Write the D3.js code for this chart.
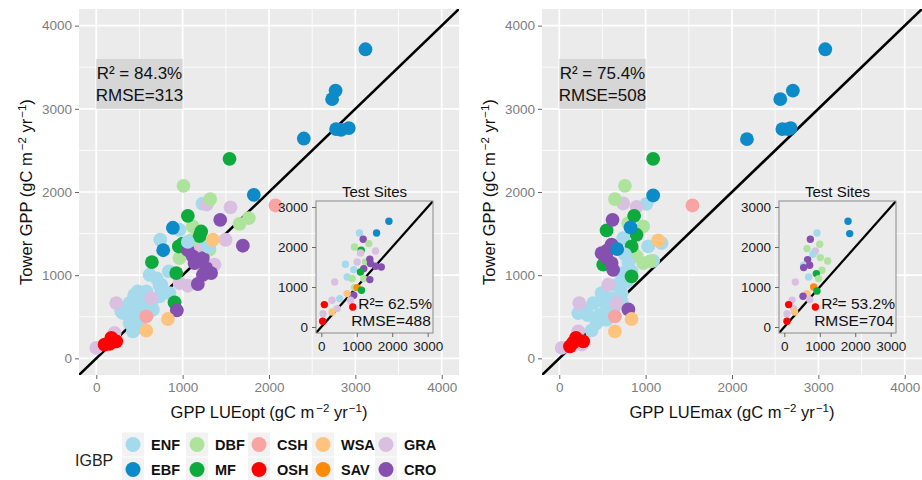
<!DOCTYPE html>
<html>
<head>
<meta charset="utf-8">
<script src="https://cdn.jsdelivr.net/npm/d3@7"></script>
<style>
  body { margin: 0; background: #fff; }
  text { font-family: "Liberation Sans", Arial, sans-serif; }
</style>
</head>
<body>
<svg id="chart" width="922" height="480"></svg>
<script>
// IGBP classes and their colours
const igbpTypes = ['ENF', 'EBF', 'DBF', 'MF', 'CSH', 'OSH', 'WSA', 'SAV', 'GRA', 'CRO']
const igbpColors = ['#a5d9ec', '#0d8bc8', '#aee39d', '#0eaa3e', '#f9a3a3', '#fe0000', '#fec47d', '#ff8a0a', '#d9c0e1', '#8550b0']

const mainTicks = [0, 1000, 2000, 3000, 4000]
const minorTicks = [500, 1500, 2500, 3500]
const insetTicks = [0, 1000, 2000, 3000]

// [IGBP, model GPP, tower GPP]  -- LUEopt, all sites
const optSites = [
  ['ENF', 1230, 1860], ['GRA', 1280, 1850], ['GRA', 1554, 1814], ['DBF', 1010, 2074], ['DBF', 1319, 1915],
  ['ENF', 964, 1546], ['ENF', 741, 1426], ['ENF', 1157, 1366], ['ENF', 1253, 1385], ['ENF', 840, 1045],
  ['ENF', 617, 1005], ['ENF', 733, 873], ['ENF', 848, 785], ['ENF', 481, 805], ['ENF', 579, 805],
  ['ENF', 521, 665], ['ENF', 385, 665], ['ENF', 289, 565], ['ENF', 443, 565], ['ENF', 637, 665],
  ['ENF', 481, 485], ['ENF', 443, 345], ['ENF', 308, 545], ['ENF', 733, 745], ['ENF', 655, 585],
  ['ENF', 385, 425], ['ENF', 539, 605], ['ENF', 424, 324], ['ENF', 752, 885], ['ENF', 560, 720],
  ['ENF', 440, 760], ['ENF', 350, 600], ['ENF', 600, 540], ['ENF', 500, 420], ['ENF', 700, 960],
  ['GRA', 1497, 1426], ['GRA', 1369, 1126], ['GRA', 964, 906], ['GRA', 1060, 873], ['GRA', 231, 665],
  ['GRA', 637, 725], ['GRA', 212, 305], ['GRA', 0, 125], ['GRA', 212, 200], ['GRA', 1180, 1300],
  ['DBF', 1659, 1618], ['DBF', 1766, 1686], ['DBF', 1118, 1586], ['DBF', 1311, 1306], ['DBF', 964, 1206],
  ['DBF', 1227, 1126], ['DBF', 1100, 1420],
  ['MF', 1543, 2399], ['MF', 1060, 1714], ['MF', 1215, 1525], ['MF', 1196, 1470], ['MF', 956, 1345],
  ['MF', 644, 1158], ['MF', 926, 1025], ['MF', 906, 673], ['MF', 1000, 1380],
  ['CRO', 1435, 1666], ['CRO', 1697, 1354], ['CRO', 1118, 1226], ['CRO', 1234, 1206], ['CRO', 1138, 1146],
  ['CRO', 1234, 1005], ['CRO', 1330, 1025], ['CRO', 1176, 894], ['CRO', 1273, 1085], ['CRO', 933, 577],
  ['CRO', 1060, 1300],
  ['ENF', 1060, 1400], ['ENF', 1300, 1340],
  ['WSA', 1350, 1426], ['WSA', 829, 473], ['WSA', 579, 333],
  ['CSH', 2075, 1838], ['CSH', 579, 505],
  ['EBF', 3117, 3716], ['EBF', 2771, 3219], ['EBF', 2731, 3116], ['EBF', 2777, 2756], ['EBF', 2924, 2768],
  ['EBF', 2835, 2747], ['EBF', 2403, 2643], ['EBF', 1824, 1966], ['EBF', 887, 1570], ['EBF', 775, 1300],
  ['OSH', 96, 165], ['OSH', 174, 245], ['OSH', 231, 205], ['OSH', 154, 175]
]

// LUEmax, all sites
const maxSites = [
  ['ENF', 1010, 1858], ['GRA', 740, 1862], ['GRA', 895, 1822], ['DBF', 760, 2074], ['DBF', 644, 1915],
  ['ENF', 740, 1446], ['ENF', 1184, 1386], ['ENF', 1029, 1346], ['ENF', 1087, 1173], ['ENF', 740, 1026],
  ['ENF', 837, 1045], ['ENF', 721, 1005], ['ENF', 490, 785], ['ENF', 606, 725], ['ENF', 721, 785],
  ['ENF', 644, 625], ['ENF', 393, 665], ['ENF', 277, 585], ['ENF', 220, 545], ['ENF', 471, 525],
  ['ENF', 432, 425], ['ENF', 374, 336], ['ENF', 548, 465], ['ENF', 721, 685], ['ENF', 560, 600],
  ['ENF', 660, 880], ['ENF', 520, 680], ['ENF', 780, 920], ['ENF', 330, 520],
  ['GRA', 567, 885], ['GRA', 231, 665], ['GRA', 664, 665], ['GRA', 220, 325], ['GRA', 28, 125], ['GRA', 259, 165],
  ['DBF', 971, 1586], ['DBF', 798, 1626], ['DBF', 895, 1225], ['DBF', 971, 1146], ['DBF', 1049, 1166],
  ['DBF', 850, 1300],
  ['MF', 1087, 2399], ['MF', 867, 1714], ['MF', 548, 1538], ['MF', 895, 1486], ['MF', 837, 1346],
  ['MF', 509, 1126], ['MF', 837, 985],
  ['CRO', 617, 1666], ['CRO', 606, 1366], ['CRO', 490, 1266], ['CRO', 548, 1206], ['CRO', 606, 1146],
  ['CRO', 624, 1065], ['CRO', 800, 588], ['CRO', 560, 1300],
  ['ENF', 800, 1150], ['ENF', 760, 1250],
  ['WSA', 1145, 1418], ['WSA', 837, 473], ['WSA', 644, 324],
  ['CSH', 1542, 1838], ['CSH', 644, 505],
  ['EBF', 3080, 3716], ['EBF', 2705, 3219], ['EBF', 2559, 3116], ['EBF', 2583, 2756], ['EBF', 2679, 2768],
  ['EBF', 2650, 2756], ['EBF', 2173, 2635], ['EBF', 1087, 1958], ['EBF', 825, 1574], ['EBF', 671, 1314],
  ['OSH', 124, 144], ['OSH', 193, 245], ['OSH', 277, 204], ['OSH', 160, 190]
]

// LUEopt, test sites (inset)
const optTest = [
  ['EBF', 1907, 2643], ['EBF', 1558, 2350], ['ENF', 1076, 2350], ['ENF', 680, 1568], ['ENF', 915, 1435],
  ['ENF', 728, 1250], ['ENF', 518, 710], ['CRO', 1181, 2193], ['DBF', 935, 2000], ['DBF', 1340, 2085],
  ['MF', 1124, 1918], ['GRA', 1105, 1850], ['GRA', 1530, 1900], ['GRA', 1011, 1625], ['DBF', 1246, 1625],
  ['CRO', 1368, 1693], ['CRO', 1388, 1585], ['CRO', 1530, 1518], ['CRO', 1691, 1500], ['CRO', 1198, 1460],
  ['MF', 1105, 1375], ['DBF', 869, 1210], ['DBF', 1198, 1210], ['CRO', 1368, 1185], ['GRA', 377, 1125],
  ['DBF', 935, 985], ['SAV', 1011, 985], ['MF', 1133, 918], ['CRO', 915, 793], ['WSA', 728, 835],
  ['GRA', 822, 668], ['GRA', 303, 668], ['GRA', 445, 460], ['GRA', 48, 335], ['WSA', 303, 375],
  ['OSH', 85, 560], ['OSH', 887, 500], ['OSH', 37, 143]
]

// LUEmax, test sites (inset)
const maxTest = [
  ['EBF', 1797, 2643], ['EBF', 1844, 2335], ['ENF', 922, 2350], ['CRO', 734, 2193], ['DBF', 997, 2068],
  ['DBF', 640, 1960], ['GRA', 875, 1900], ['ENF', 809, 1818], ['DBF', 1016, 1735], ['DBF', 1223, 1650],
  ['CRO', 658, 1685], ['ENF', 545, 1543], ['CRO', 545, 1485], ['CRO', 715, 1543], ['DBF', 1063, 1418],
  ['MF', 903, 1335], ['ENF', 686, 1250], ['DBF', 969, 1210], ['GRA', 310, 1125], ['SAV', 828, 1000],
  ['MF', 922, 900], ['WSA', 640, 835], ['CRO', 527, 768], ['GRA', 216, 668], ['GRA', 715, 685],
  ['GRA', 263, 460], ['GRA', 75, 335], ['WSA', 292, 375], ['OSH', 122, 560], ['OSH', 875, 500],
  ['OSH', 75, 143]
]

// fit statistics: [R2 all, RMSE all, R2 test, RMSE test]
const optStats = ['84.3%', '313', '62.5%', '488']
const maxStats = ['75.4%', '508', '53.2%', '704']

const color = d3.scaleOrdinal().domain(igbpTypes).range(igbpColors)
const svg = d3.select('#chart')
const fmt = d3.format('d')

function unitsTitle(sel, label) {
  sel.append('tspan').text(label + ' (gC m')
  sel.append('tspan').attr('dx', 2).attr('dy', -6).attr('font-size', '11.5px').text('\u22122')
  sel.append('tspan').attr('dy', 6).text(' yr')
  sel.append('tspan').attr('dx', 1).attr('dy', -6).attr('font-size', '11.5px').text('\u22121')
  sel.append('tspan').attr('dy', 6).text(')')
}

function styleAxis(a, textColor) {
  a.select('.domain').remove()
  a.selectAll('line').attr('stroke', '#666')
  a.selectAll('text').attr('fill', textColor).attr('font-size', '13.5px')
    .style('font-family', '"Liberation Sans", Arial, sans-serif')
}

function drawPanel(left, data, test, stats, xLabel, id) {
  const top = 9, w = 380, h = 366
  const x = d3.scaleLinear().domain([-200, 4200]).range([left, left + w])
  const y = d3.scaleLinear().domain([-200, 4200]).range([top + h, top])
  const g = svg.append('g')

  g.append('clipPath').attr('id', 'clip' + id)
    .append('rect').attr('x', left).attr('y', top).attr('width', w).attr('height', h)

  g.append('rect').attr('x', left).attr('y', top).attr('width', w).attr('height', h).attr('fill', '#ebebeb')

  // grid
  const grid = g.append('g').attr('clip-path', `url(#clip${id})`)
  grid.selectAll('.vmin').data(minorTicks).enter().append('line')
    .attr('x1', d => x(d)).attr('x2', d => x(d)).attr('y1', top).attr('y2', top + h)
    .attr('stroke', '#fff').attr('stroke-width', 0.8)
  grid.selectAll('.hmin').data(minorTicks).enter().append('line')
    .attr('y1', d => y(d)).attr('y2', d => y(d)).attr('x1', left).attr('x2', left + w)
    .attr('stroke', '#fff').attr('stroke-width', 0.8)
  grid.selectAll('.vmaj').data(mainTicks).enter().append('line')
    .attr('x1', d => x(d)).attr('x2', d => x(d)).attr('y1', top).attr('y2', top + h)
    .attr('stroke', '#fff').attr('stroke-width', 1.7)
  grid.selectAll('.hmaj').data(mainTicks).enter().append('line')
    .attr('y1', d => y(d)).attr('y2', d => y(d)).attr('x1', left).attr('x2', left + w)
    .attr('stroke', '#fff').attr('stroke-width', 1.7)

  // stats box
  g.append('rect').attr('x', x(0)).attr('y', y(3600))
    .attr('width', x(1000) - x(0)).attr('height', y(3000) - y(3600)).attr('fill', '#d6d6d6')
  g.append('text').attr('x', x(500)).attr('y', y(3430)).attr('dy', '0.35em')
    .attr('text-anchor', 'middle').attr('font-size', '17px').attr('fill', '#111')
    .text('R\u00b2 = ' + stats[0])
  g.append('text').attr('x', x(500)).attr('y', y(3170)).attr('dy', '0.35em')
    .attr('text-anchor', 'middle').attr('font-size', '17px').attr('fill', '#111')
    .text('RMSE=' + stats[1])

  const plot = g.append('g').attr('clip-path', `url(#clip${id})`)
  plot.append('line').attr('x1', x(-200)).attr('y1', y(-200)).attr('x2', x(4200)).attr('y2', y(4200))
    .attr('stroke', '#000').attr('stroke-width', 2.6)
  plot.selectAll('circle').data(data).enter().append('circle')
    .attr('cx', d => x(d[1])).attr('cy', d => y(d[2])).attr('r', 6.9)
    .attr('fill', d => color(d[0]))

  // axes
  const xAxis = g.append('g').attr('transform', `translate(0,${top + h})`)
    .call(d3.axisBottom(x).tickValues(mainTicks).tickFormat(fmt).tickSize(4).tickPadding(3))
  const yAxis = g.append('g').attr('transform', `translate(${left},0)`)
    .call(d3.axisLeft(y).tickValues(mainTicks).tickFormat(fmt).tickSize(4).tickPadding(3))
  styleAxis(xAxis, '#7d7d7d')
  styleAxis(yAxis, '#7d7d7d')

  // axis titles
  g.append('text').attr('x', left + w / 2).attr('y', 418).attr('text-anchor', 'middle')
    .attr('font-size', '16.5px').attr('fill', '#111').call(unitsTitle, xLabel)
  g.append('text').attr('transform', `translate(${left - 47},${top + h / 2}) rotate(-90)`)
    .attr('text-anchor', 'middle').attr('font-size', '16.5px').attr('fill', '#111')
    .call(unitsTitle, 'Tower GPP')

  // inset with test sites
  const il = left + 237, it = 201, iw = 117, ih = 132
  const ix = d3.scaleLinear().domain([-150, 3150]).range([il, il + iw])
  const iy = d3.scaleLinear().domain([-150, 3150]).range([it + ih, it])
  const ig = g.append('g')
  ig.append('clipPath').attr('id', 'iclip' + id)
    .append('rect').attr('x', il).attr('y', it).attr('width', iw).attr('height', ih)
  ig.append('rect').attr('x', il).attr('y', it).attr('width', iw).attr('height', ih)
    .attr('fill', '#ebebeb')
  const ip = ig.append('g').attr('clip-path', `url(#iclip${id})`)
  ip.append('line').attr('x1', ix(-150)).attr('y1', iy(-150)).attr('x2', ix(3150)).attr('y2', iy(3150))
    .attr('stroke', '#000').attr('stroke-width', 2.2)
  ip.selectAll('circle').data(test).enter().append('circle')
    .attr('cx', d => ix(d[1])).attr('cy', d => iy(d[2])).attr('r', 3.7)
    .attr('fill', d => color(d[0]))
  ig.append('rect').attr('x', il).attr('y', it).attr('width', iw).attr('height', ih)
    .attr('fill', 'none').attr('stroke', '#8a8a8a').attr('stroke-width', 1)

  const ixa = ig.append('g').attr('transform', `translate(0,${it + ih})`)
    .call(d3.axisBottom(ix).tickValues(insetTicks).tickFormat(fmt).tickSize(4).tickPadding(4))
  const iya = ig.append('g').attr('transform', `translate(${il},0)`)
    .call(d3.axisLeft(iy).tickValues(insetTicks).tickFormat(fmt).tickSize(4).tickPadding(4))
  styleAxis(ixa, '#1a1a1a')
  styleAxis(iya, '#1a1a1a')

  ig.append('text').attr('x', il + iw / 2).attr('y', 197).attr('text-anchor', 'middle')
    .attr('font-size', '15px').attr('fill', '#111').text('Test Sites')
  ig.append('text').attr('x', ix(3120)).attr('y', iy(575)).attr('dy', '0.35em')
    .attr('text-anchor', 'end').attr('font-size', '15.5px').attr('fill', '#111')
    .text('R\u00b2= ' + stats[2])
  ig.append('text').attr('x', ix(3090)).attr('y', iy(160)).attr('dy', '0.35em')
    .attr('text-anchor', 'end').attr('font-size', '15.5px').attr('fill', '#111')
    .text('RMSE=' + stats[3])
}

drawPanel(79, optSites, optTest, optStats, 'GPP LUEopt', 'a')
drawPanel(542, maxSites, maxTest, maxStats, 'GPP LUEmax', 'b')

// legend, two rows of five columns
const legend = svg.append('g')
legend.append('text').attr('x', 75).attr('y', 460).attr('dy', '0.35em')
  .attr('font-size', '16px').attr('fill', '#222').text('IGBP')
const keyX = [133, 197, 259, 323, 386]
const rowY = [444.5, 469.5]
igbpTypes.forEach((t, i) => {
  const col = Math.floor(i / 2), row = i % 2
  const cx = keyX[col], cy = rowY[row]
  legend.append('rect').attr('x', cx - 11).attr('y', cy - 12).attr('width', 22).attr('height', 24)
    .attr('fill', '#f2f2f2')
  legend.append('circle').attr('cx', cx).attr('cy', cy).attr('r', 7.5).attr('fill', color(t))
  legend.append('text').attr('x', cx + 18).attr('y', cy).attr('dy', '0.36em')
    .attr('font-size', '14.5px').attr('font-weight', 'bold').attr('fill', '#111').text(t)
})
</script>
</body>
</html>
